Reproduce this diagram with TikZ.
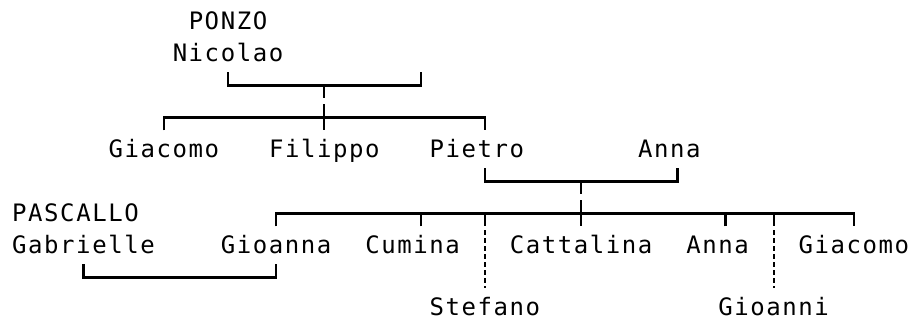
\documentclass[tikz,border=0pt]{standalone}
\usepackage{fontspec}
\newfontfamily\treefont[LetterSpace=6.5]{DejaVu Sans Mono}
\begin{document}
\begin{tikzpicture}[x=1pt,y=-1pt,
  person/.style={anchor=base,inner sep=0pt,font=\treefont\fontsize{24}{28}\selectfont},
  conn/.style={draw=black,line width=2.2pt},
  brokenconn/.style={draw=black,line width=2.4pt,dash pattern=on 5pt off 3pt}]
\useasboundingbox (0,0) rectangle (913,320);
% people
\node[person] (ponzo) at (228,29.5) {PONZO};
\node[person] (nicolao) at (228,61.5) {Nicolao};
\node[person] (giacomoA) at (163.8,157.5) {Giacomo};
\node[person] (filippo) at (324.3,157.5) {Filippo};
\node[person] (pietro) at (476.8,157.5) {Pietro};
\node[person] (annaA) at (669.4,157.5) {Anna};
\node[person] (pascallo) at (75.5,221.5) {PASCALLO};
\node[person] (gabrielle) at (83.5,253.5) {Gabrielle};
\node[person] (gioanna) at (276.1,253.5) {Gioanna};
\node[person] (cumina) at (412.6,253.5) {Cumina};
\node[person] (cattalina) at (581.1,253.5) {Cattalina};
\node[person] (annaB) at (717.5,253.5) {Anna};
\node[person] (giacomoB) at (853.9,253.5) {Giacomo};
\node[person] (stefano) at (484.8,315.5) {Stefano};
\node[person] (gioanni) at (773.7,315.5) {Gioanni};
% junctions
\coordinate (nicR) at (420.6,72.5);
\coordinate (sp1) at (324.3,85.5);
\coordinate (sib) at (324.3,117.5);
\coordinate (pa) at (581.1,181.5);
\coordinate (ch) at (581.1,213.5);
% Nicolao bracket
\draw[conn] ([yshift=-11pt]nicolao.base) |- (sp1) -| (nicR);
\draw[conn] (sp1) -- ++(0,13);
% children of Nicolao
\draw[conn] ([yshift=27pt]giacomoA.base) |- (sib) -| ([yshift=27pt,xshift=8pt]pietro.base);
\draw[conn] ([yshift=-19pt]sp1) -- ([yshift=27pt]filippo.base);
% Pietro - Anna
\draw[conn] ([yshift=-11pt,xshift=8pt]pietro.base) |- (pa) -| ([yshift=-11pt,xshift=8pt]annaA.base);
\draw[conn] (pa) -- ++(0,13);
% children of Pietro and Anna
\draw[conn] ([yshift=27pt]gioanna.base) |- (ch) -| ([yshift=27pt]giacomoB.base);
\draw[conn] ([yshift=13pt]ch) -- ([yshift=27pt]cattalina.base);
\draw[conn] ([yshift=27pt,xshift=8pt]cumina.base) |- (ch);
\draw[conn] ([yshift=27pt,xshift=8pt]annaB.base) |- (ch);
\coordinate (stefTop) at (stefano.base |- ch);
\coordinate (gioTop) at (gioanni.base |- ch);
\draw[conn] (stefTop) -- ++(0,13);
\draw[conn] (gioTop) -- ++(0,13);
\draw[brokenconn] ([yshift=-17pt]stefTop) -- ([yshift=27pt]stefano.base);
\draw[brokenconn] ([yshift=-17pt]gioTop) -- ([yshift=27pt]gioanni.base);
% Gabrielle - Gioanna
\draw[conn] ([yshift=-11pt]gabrielle.base) -- ++(0,13) -| ([yshift=-11pt]gioanna.base);
\end{tikzpicture}
\end{document}
